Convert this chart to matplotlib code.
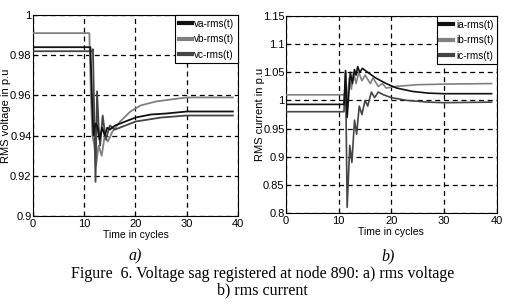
import matplotlib
matplotlib.use('Agg')
import matplotlib.pyplot as plt

# data
#
t_va = [0, 11.2, 11.5, 11.8, 12.2, 12.5, 13.0, 13.5, 14.0, 14.5, 15, 16, 18, 20, 23, 26, 30, 39]
va = [0.984, 0.984, 0.960, 0.940, 0.946, 0.945, 0.938, 0.944, 0.940, 0.944, 0.943, 0.945, 0.947, 0.949, 0.9505, 0.951, 0.952, 0.952]

t_vb = [0, 11.0, 11.3, 11.6, 12.0, 12.3, 12.8, 13.4, 14.0, 14.6, 15.5, 17, 19, 21, 24, 27, 30, 39]
vb = [0.991, 0.991, 0.960, 0.940, 0.935, 0.925, 0.935, 0.930, 0.940, 0.937, 0.942, 0.947, 0.952, 0.955, 0.957, 0.958, 0.959, 0.959]

t_vc = [0, 11.5, 11.7, 12.2, 12.5, 12.8, 13.1, 13.6, 14.2, 15, 16, 18, 20, 25, 30, 39]
vc = [0.982, 0.982, 0.983, 0.917, 0.962, 0.945, 0.935, 0.950, 0.938, 0.945, 0.943, 0.945, 0.947, 0.949, 0.950, 0.950]

t_ia = [0, 11.0, 11.3, 11.6, 12.2, 12.6, 13.0, 13.3, 13.6, 14.0, 14.5, 15.5, 17, 19, 21, 24, 27, 30, 39]
ia = [0.993, 0.993, 1.053, 0.970, 1.050, 1.030, 1.055, 1.045, 1.060, 1.050, 1.057, 1.050, 1.040, 1.030, 1.022, 1.016, 1.013, 1.012, 1.012]

t_ib = [0, 11.2, 11.5, 12.0, 12.4, 12.8, 13.3, 13.8, 14.4, 15, 16, 16.5, 17.5, 18.3, 19, 21, 25, 30, 39]
ib = [1.010, 1.010, 0.990, 1.040, 1.020, 1.050, 1.030, 1.050, 1.035, 1.045, 1.030, 1.040, 1.025, 1.030, 1.022, 1.025, 1.028, 1.029, 1.030]

t_ic = [0, 11.0, 11.3, 11.6, 12.1, 12.5, 13.0, 13.4, 13.9, 14.4, 15, 15.5, 16.2, 16.8, 17.5, 18.5, 20, 23, 27, 30, 39]
ic = [0.980, 0.980, 1.050, 0.810, 0.920, 0.890, 0.965, 0.940, 0.990, 0.975, 1.000, 0.990, 1.015, 1.005, 1.015, 1.010, 1.005, 1.000, 0.997, 0.996, 0.997]

v_ticks = [0.9, 0.92, 0.94, 0.96, 0.98, 1.0]
v_labels = ['0.9', '0.92', '0.94', '0.96', '0.98', '1']
i_ticks = [0.8, 0.85, 0.9, 0.95, 1.0, 1.05, 1.1, 1.15]
i_labels = ['0.8', '0.85', '0.9', '0.95', '1', '1.05', '1.1', '1.15']
x_ticks = [0, 10, 20, 30, 40]

# style
#
plt.rcParams['font.family'] = ['Liberation Sans Narrow', 'Liberation Sans', 'DejaVu Sans']
c_a, c_b, c_c = '#111111', '#808080', '#454545'

fig = plt.figure(figsize=(5.13, 3.04), dpi=100)
ax1 = fig.add_axes([0.0643, 0.2895, 0.3996, 0.661])
ax2 = fig.add_axes([0.5575, 0.2993, 0.411, 0.648])

# plot
#
ax1.plot(t_va, va, color=c_a, linewidth=1.3, label='va-rms(t)', zorder=4)
ax1.plot(t_vb, vb, color=c_b, linewidth=1.3, label='vb-rms(t)', zorder=3)
ax1.plot(t_vc, vc, color=c_c, linewidth=1.3, label='vc-rms(t)', zorder=3)

ax2.plot(t_ia, ia, color=c_a, linewidth=1.2, label='ia-rms(t)', zorder=4)
ax2.plot(t_ib, ib, color=c_b, linewidth=1.2, label='ib-rms(t)', zorder=3)
ax2.plot(t_ic, ic, color=c_c, linewidth=1.2, label='ic-rms(t)', zorder=3)

# axes, grid, legend
#
for ax, yt, yl, lab, lx in [(ax1, v_ticks, v_labels, 'RMS voltage in p.u', -0.108),
                            (ax2, i_ticks, i_labels, 'RMS current in p.u', -0.1)]:
    ax.set_xlim(0, 40)
    ax.set_xticks(x_ticks)
    ax.set_yticks(yt)
    ax.set_yticklabels(yl)
    ax.set_ylim(yt[0], yt[-1])
    ax.tick_params(labelsize=8, direction='in', length=3, pad=1)
    ax.tick_params(axis='x', pad=2)
    ax.grid(True, color='black', linestyle=(0, (4, 3)), linewidth=0.9)
    for s in ax.spines.values():
        s.set_linewidth(0.8)
    ax.set_xlabel('Time in cycles', fontsize=7.5, labelpad=1)
    ax.set_ylabel(lab, fontsize=8)
    ax.yaxis.set_label_coords(lx, 0.5)
    leg = ax.legend(loc='upper right', fontsize=7.2, fancybox=False, framealpha=1,
                    edgecolor='black', borderpad=0.35, handlelength=1.3,
                    handletextpad=0.25, labelspacing=0.55, borderaxespad=0)
    leg.get_frame().set_linewidth(0.8)
    for ln in leg.get_lines():
        ln.set_linewidth(3)

# captions
#
serif = ['Liberation Serif', 'DejaVu Serif']
fig.text(0.263, 0.155, 'a)', fontsize=11.5, style='italic', family=serif, ha='center', va='center')
fig.text(0.757, 0.155, 'b)', fontsize=11.5, style='italic', family=serif, ha='center', va='center')
fig.text(0.512, 0.098, 'Figure  6. Voltage sag registered at node 890: a) rms voltage',
         fontsize=11.5, family=serif, ha='center', va='center')
fig.text(0.512, 0.046, 'b) rms current', fontsize=11.5, family=serif, ha='center', va='center')

plt.savefig('out.png', dpi=100)
